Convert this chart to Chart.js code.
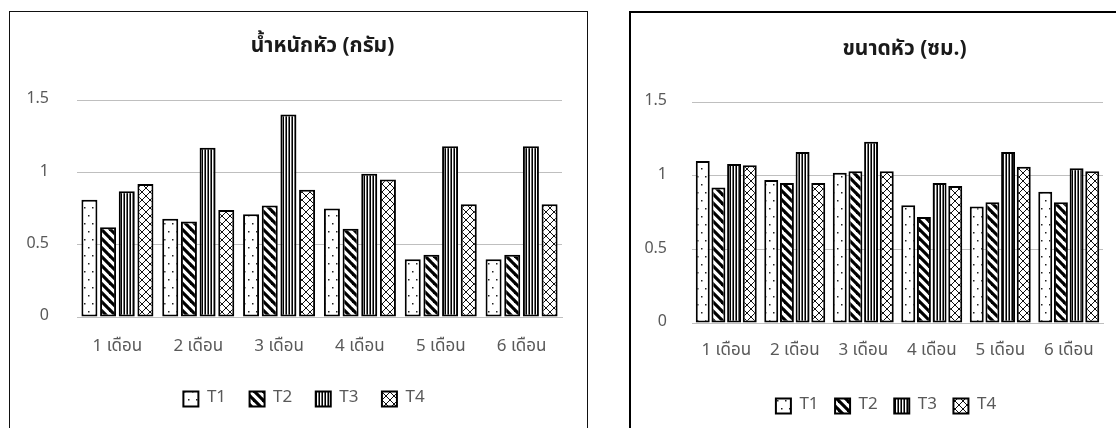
<!DOCTYPE html>
<html>
<head>
<meta charset="utf-8">
<script src="https://cdn.jsdelivr.net/npm/chart.js@4.4.1/dist/chart.umd.min.js"></script>
<style>
  html, body { margin: 0; padding: 0; background: #fff; overflow: hidden; }
  body { width: 1116px; height: 428px; position: relative; }
  .frame { position: absolute; box-sizing: border-box; background: #fff; }
  #frameA { left: 9px; top: 11px; width: 579px; height: 440px; border: 1px solid #111; }
  #frameB { left: 629px; top: 11px; width: 520px; height: 440px; border: 2px solid #000; }
  canvas { position: absolute; }
  #chartA { left: 10px; top: 12px; }
  #chartB { left: 631px; top: 13px; }
</style>
</head>
<body>
<div class="frame" id="frameA"></div>
<div class="frame" id="frameB"></div>
<canvas id="chartA" width="576" height="416"></canvas>
<canvas id="chartB" width="504" height="415"></canvas>
<script>
// Months after planting
const months = ['1 เดือน', '2 เดือน', '3 เดือน', '4 เดือน', '5 เดือน', '6 เดือน'];
const treatments = ['T1', 'T2', 'T3', 'T4'];
const yTicks = [0, 0.5, 1, 1.5];

// Head weight (g)
const weightT1 = [0.81, 0.68, 0.71, 0.75, 0.40, 0.40];
const weightT2 = [0.62, 0.66, 0.77, 0.61, 0.43, 0.43];
const weightT3 = [0.87, 1.17, 1.40, 0.99, 1.18, 1.18];
const weightT4 = [0.92, 0.74, 0.88, 0.95, 0.78, 0.78];

// Head size (cm)
const sizeT1 = [1.10, 0.97, 1.02, 0.80, 0.79, 0.89];
const sizeT2 = [0.92, 0.95, 1.03, 0.72, 0.82, 0.82];
const sizeT3 = [1.08, 1.16, 1.23, 0.95, 1.16, 1.05];
const sizeT4 = [1.07, 0.95, 1.03, 0.93, 1.06, 1.03];

const FONT = "Tahoma, 'Leelawadee UI', 'Noto Sans Thai', 'Noto Sans', 'DejaVu Sans', sans-serif";
const TEXT = '#595959';

// ---- monochrome fill patterns ----
function tile(w, h, draw) {
  const c = document.createElement('canvas');
  c.width = w; c.height = h;
  const g = c.getContext('2d');
  g.fillStyle = '#fff';
  g.fillRect(0, 0, w, h);
  draw(g, w, h);
  return document.createElement('canvas').getContext('2d').createPattern(c, 'repeat');
}
const patDots = tile(8, 16, (g) => {
  g.fillStyle = '#222';
  g.fillRect(2, 3, 1.5, 1.5);
  g.fillRect(6, 11, 1.5, 1.5);
});
const patBackslash = tile(9, 9, (g, w) => {
  g.strokeStyle = '#000';
  g.lineWidth = 3.2;
  for (let k = -w; k <= w; k += w) {
    g.beginPath();
    g.moveTo(k - 2, -2);
    g.lineTo(k + w + 2, w + 2);
    g.stroke();
  }
});
const patVertical = tile(3, 4, (g) => {
  g.fillStyle = '#000';
  g.fillRect(0, 0, 1, 4);
  g.fillStyle = '#6e6e6e';
  g.fillRect(2, 0, 1, 4);
});
const patCross = tile(8, 8, (g, w) => {
  g.strokeStyle = '#111';
  g.lineWidth = 1;
  for (let k = -w; k <= w; k += w) {
    g.beginPath();
    g.moveTo(k, 0); g.lineTo(k + w, w);
    g.moveTo(k + w, 0); g.lineTo(k, w);
    g.stroke();
  }
});
const fills = [patDots, patBackslash, patVertical, patCross];

// Title centred over the plot area
const plotTitle = {
  id: 'plotTitle',
  afterDraw(chart, args, opts) {
    const { ctx, chartArea } = chart;
    ctx.save();
    ctx.font = `bold ${opts.size}px ${FONT}`;
    ctx.fillStyle = opts.color;
    ctx.textAlign = 'center';
    ctx.textBaseline = 'middle';
    ctx.fillText(opts.text, (chartArea.left + chartArea.right) / 2 + opts.dx, opts.y);
    ctx.restore();
  }
};

// Nudge the legend row sideways after layout
const legendShift = {
  id: 'legendShift',
  afterLayout(chart, args, opts) {
    const lg = chart.legend;
    if (lg && opts.dx) {
      lg.left += opts.dx;
      lg.right += opts.dx;
    }
  }
};

function datasets(series, catPct, barPct) {
  return series.map((vals, i) => ({
    label: treatments[i],
    data: vals,
    backgroundColor: fills[i],
    borderColor: '#000',
    borderWidth: 2,
    borderSkipped: false,
    categoryPercentage: catPct,
    barPercentage: barPct
  }));
}

function makeChart(id, title, series, cfg) {
  return new Chart(document.getElementById(id), {
    type: 'bar',
    data: { labels: months, datasets: datasets(series, cfg.catPct, cfg.barPct) },
    plugins: [plotTitle, legendShift],
    options: {
      responsive: false,
      animation: false,
      devicePixelRatio: 1,
      layout: { padding: { top: cfg.plotTop, left: 0, right: cfg.padRight, bottom: cfg.padBottom } },
      plugins: {
        title: { display: false },
        plotTitle: { text: title, size: 21, color: '#1a1a1a', y: cfg.titleY, dx: cfg.titleDx },
        legendShift: { dx: cfg.legendDx },
        legend: {
          position: 'bottom',
          labels: {
            color: TEXT,
            font: { family: FONT, size: 17 },
            boxWidth: 15,
            boxHeight: 15,
            padding: cfg.legendPad
          }
        },
        tooltip: { enabled: false }
      },
      scales: {
        x: {
          grid: { display: false, drawTicks: false },
          border: { display: true, color: '#bfbfbf', width: 1 },
          ticks: { color: TEXT, font: { family: FONT, size: 17 }, padding: cfg.xPad, maxRotation: 0 },
          afterFit: (s) => { s.height = cfg.xHeight; }
        },
        y: {
          min: yTicks[0],
          max: yTicks[yTicks.length - 1],
          afterBuildTicks: (s) => { s.ticks = yTicks.map(v => ({ value: v })); },
          grid: { color: '#bfbfbf', lineWidth: 1, drawTicks: false },
          border: { display: false },
          ticks: {
            color: TEXT, font: { family: FONT, size: 16 }, padding: cfg.yPad,
            callback: (v) => String(v)
          },
          afterFit: (s) => { s.width = cfg.yWidth; }
        }
      }
    }
  });
}

makeChart('chartA', 'น้ำหนักหัว (กรัม)', [weightT1, weightT2, weightT3, weightT4], {
  catPct: 0.924, barPct: 0.857,
  plotTop: 88, padRight: 24, padBottom: 10.5,
  titleY: 36, titleDx: 3,
  legendPad: 23.5, legendDx: 18,
  xPad: 20, xHeight: 50,
  yPad: 28, yWidth: 67
});

makeChart('chartB', 'ขนาดหัว (ซม.)', [sizeT1, sizeT2, sizeT3, sizeT4], {
  catPct: 0.915, barPct: 0.89,
  plotTop: 89, padRight: 32, padBottom: 3.5,
  titleY: 38, titleDx: 7,
  legendPad: 16.5, legendDx: 19,
  xPad: 18, xHeight: 58,
  yPad: 25, yWidth: 61
});
</script>
</body>
</html>
